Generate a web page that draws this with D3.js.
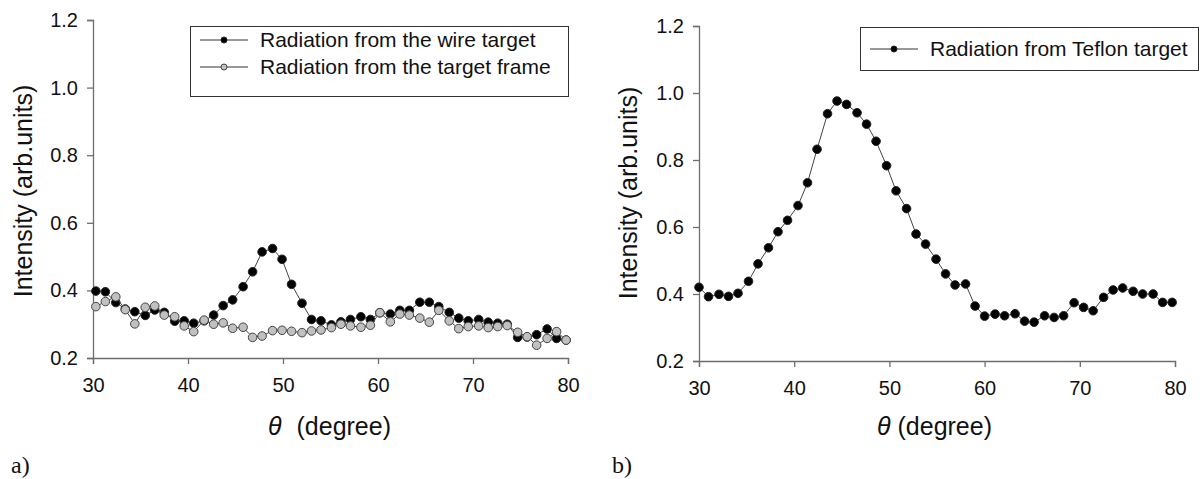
<!DOCTYPE html>
<html>
<head>
<meta charset="utf-8">
<script src="https://cdn.jsdelivr.net/npm/d3@7"></script>
<style>
  body { margin: 0; background: #fff; }
  svg { display: block; font-family: "Liberation Sans", Arial, sans-serif; }
</style>
</head>
<body>
<div id="chart"></div>
<script>
//Canvas size
const width = 1200;
const height = 479;

//Data - panel a
const thetaA = [30.3, 31.3, 32.4, 33.4, 34.4, 35.5, 36.5, 37.5, 38.6, 39.6, 40.6, 41.7, 42.7, 43.7, 44.7, 45.8, 46.8, 47.8, 48.9, 49.9,
  50.9, 52.0, 53.0, 54.0, 55.1, 56.1, 57.1, 58.2, 59.2, 60.2, 61.3, 62.3, 63.3, 64.4, 65.4, 66.4, 67.5, 68.5, 69.5, 70.6,
  71.6, 72.6, 73.6, 74.7, 75.7, 76.7, 77.8, 78.8, 79.8];
const wireValues = [0.398, 0.396, 0.364, 0.345, 0.337, 0.326, 0.342, 0.335, 0.309, 0.310, 0.303, 0.310, 0.327, 0.355, 0.372, 0.411, 0.455, 0.514, 0.524, 0.492,
  0.418, 0.362, 0.314, 0.310, 0.298, 0.307, 0.314, 0.322, 0.314, 0.334, 0.330, 0.341, 0.341, 0.365, 0.365, 0.352, 0.335, 0.318, 0.310, 0.314,
  0.306, 0.303, 0.300, 0.261, 0.262, 0.269, 0.286, 0.258, 0.253];
const frameValues = [0.352, 0.367, 0.381, 0.343, 0.301, 0.350, 0.354, 0.327, 0.322, 0.295, 0.278, 0.312, 0.300, 0.304, 0.288, 0.291, 0.261, 0.265, 0.281, 0.282,
  0.279, 0.275, 0.280, 0.283, 0.290, 0.300, 0.295, 0.291, 0.297, 0.334, 0.307, 0.330, 0.327, 0.318, 0.306, 0.341, 0.310, 0.287, 0.293, 0.295,
  0.290, 0.293, 0.296, 0.276, 0.263, 0.238, 0.258, 0.278, 0.253];

//Data - panel b
const thetaB = [30.0, 31.0, 32.1, 33.1, 34.1, 35.2, 36.2, 37.3, 38.3, 39.3, 40.4, 41.4, 42.4, 43.5, 44.5, 45.5, 46.6, 47.6, 48.6, 49.7,
  50.7, 51.8, 52.8, 53.8, 54.9, 55.9, 56.9, 58.0, 59.0, 60.0, 61.1, 62.1, 63.2, 64.2, 65.2, 66.3, 67.3, 68.3, 69.4, 70.4,
  71.4, 72.5, 73.5, 74.5, 75.6, 76.6, 77.7, 78.7, 79.7];
const teflonValues = [0.420, 0.392, 0.399, 0.393, 0.402, 0.438, 0.490, 0.538, 0.586, 0.620, 0.664, 0.732, 0.832, 0.938, 0.976, 0.966, 0.941, 0.907, 0.856, 0.783,
  0.708, 0.655, 0.579, 0.549, 0.504, 0.460, 0.427, 0.430, 0.364, 0.334, 0.340, 0.335, 0.341, 0.319, 0.316, 0.335, 0.330, 0.335, 0.374, 0.360,
  0.350, 0.390, 0.412, 0.418, 0.408, 0.400, 0.400, 0.375, 0.375];

//Axis ticks
const xTicks = [30, 40, 50, 60, 70, 80];
const yTicks = [0.2, 0.4, 0.6, 0.8, 1.0, 1.2];

const svg = d3.select("#chart").append("svg")
  .attr("width", width)
  .attr("height", height);

//Draws one panel: axes, titles, series and legend
const drawPanel = (p) => {
  const x = d3.scaleLinear().domain([30, 80]).range([p.left, p.right]);
  const y = d3.scaleLinear().domain([0.2, 1.2]).range([p.bottom, p.top]);
  const g = svg.append("g");

  //Y axis
  const yAxis = g.append("g")
    .attr("transform", `translate(${p.left},0)`)
    .call(d3.axisLeft(y).tickValues(yTicks).tickFormat(d3.format(".1f")).tickSize(6).tickPadding(9));
  //X axis
  const xAxis = g.append("g")
    .attr("transform", `translate(0,${p.bottom})`)
    .call(d3.axisBottom(x).tickValues(xTicks).tickFormat(d3.format("d")).tickSize(6).tickPadding(14));

  [yAxis, xAxis].forEach(a => {
    a.select(".domain").attr("stroke", "#6e6e6e").attr("stroke-width", 1.3);
    a.selectAll(".tick line").attr("stroke", "#6e6e6e").attr("stroke-width", 1.3);
    a.selectAll(".tick text").attr("fill", "#111").style("font-size", "20px")
      .style("font-family", "'Liberation Sans', Arial, sans-serif");
  });

  //Y title
  g.append("text")
    .attr("transform", `translate(${p.yTitleX},${p.yTitleY}) rotate(-90)`)
    .attr("text-anchor", "middle")
    .style("font-size", "25px")
    .attr("fill", "#111")
    .text("Intensity (arb.units)");

  //X title
  const xt = g.append("text")
    .attr("x", p.xTitleX)
    .attr("y", 435)
    .style("font-size", "25px")
    .attr("fill", "#111");
  xt.append("tspan").attr("font-style", "italic").text("θ");
  xt.append("tspan").attr("xml:space", "preserve").attr("dx", p.xTitleGap).text(" (degree)");

  //Panel tag
  g.append("text")
    .attr("x", p.tagX)
    .attr("y", 473)
    .style("font-family", "'Liberation Serif', 'Times New Roman', serif")
    .style("font-size", "24px")
    .attr("fill", "#111")
    .text(p.tag);

  const line = d3.line().x(d => x(d[0])).y(d => y(d[1]));

  //Series lines then markers, in series order
  p.series.forEach(s => {
    const pts = s.theta.map((t, i) => [t, s.values[i]]);
    g.append("path")
      .datum(pts)
      .attr("fill", "none")
      .attr("stroke", "#444")
      .attr("stroke-width", 1)
      .attr("d", line);
    g.append("g").selectAll("circle")
      .data(pts)
      .join("circle")
      .attr("cx", d => x(d[0]))
      .attr("cy", d => y(d[1]))
      .attr("r", 4.3)
      .attr("fill", s.fill)
      .attr("stroke", s.stroke)
      .attr("stroke-width", 1);
  });

  //Legend
  const lg = g.append("g");
  lg.append("rect")
    .attr("x", p.legend.x + 0.5)
    .attr("y", p.legend.y + 0.5)
    .attr("width", p.legend.w)
    .attr("height", p.legend.h)
    .attr("fill", "#fff")
    .attr("stroke", "#333")
    .attr("stroke-width", 1);
  p.series.forEach((s, i) => {
    const cy = p.legend.y + p.legend.firstRow + i * p.legend.rowGap;
    lg.append("line")
      .attr("x1", p.legend.x + 10).attr("x2", p.legend.x + 58)
      .attr("y1", cy).attr("y2", cy)
      .attr("stroke", "#333").attr("stroke-width", 1);
    lg.append("circle")
      .attr("cx", p.legend.x + 34).attr("cy", cy)
      .attr("r", 3)
      .attr("fill", s.fill).attr("stroke", s.stroke);
    lg.append("text")
      .attr("x", p.legend.x + 70)
      .attr("y", cy + 7)
      .style("font-size", "21px")
      .attr("fill", "#111")
      .text(s.name);
  });
};

drawPanel({
  left: 93, right: 568, top: 20, bottom: 358,
  yTitleX: 32, yTitleY: 191, xTitleX: 268, xTitleGap: 8, tag: "a)", tagX: 11,
  series: [
    { name: "Radiation from the wire target", theta: thetaA, values: wireValues, fill: "#000", stroke: "#222" },
    { name: "Radiation from the target frame", theta: thetaA, values: frameValues, fill: "#c0c0c0", stroke: "#444" }
  ],
  legend: { x: 190, y: 26, w: 378, h: 70, firstRow: 14, rowGap: 27 }
});

drawPanel({
  left: 699, right: 1175, top: 26, bottom: 361,
  yTitleX: 637, yTitleY: 193, xTitleX: 877, xTitleGap: 0, tag: "b)", tagX: 612,
  series: [
    { name: "Radiation from Teflon target", theta: thetaB, values: teflonValues, fill: "#000", stroke: "#222" }
  ],
  legend: { x: 860, y: 27, w: 338, h: 43, firstRow: 22, rowGap: 27 }
});
</script>
</body>
</html>
